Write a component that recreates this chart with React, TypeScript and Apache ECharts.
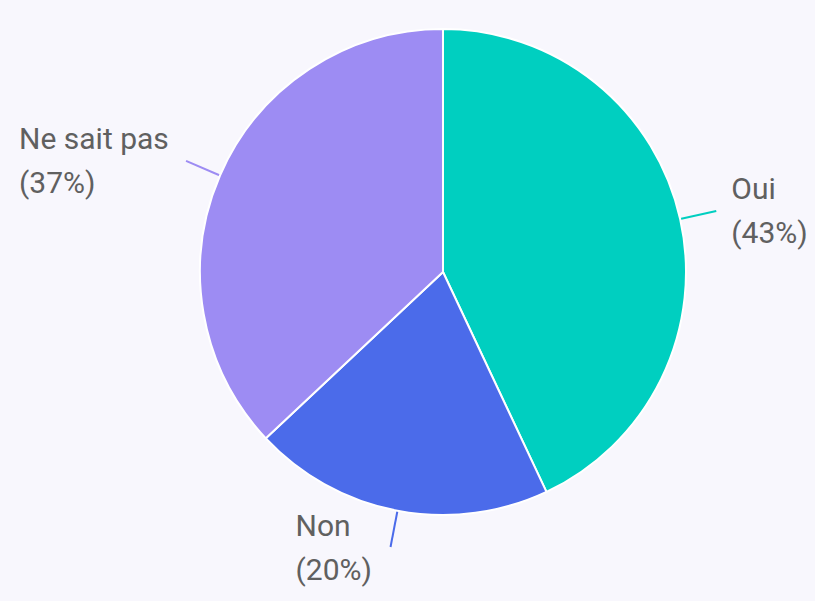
import React, { useEffect, useRef } from "react";
import * as echarts from "echarts";

const categories = ["Oui", "Non", "Ne sait pas"];
const values = [43, 20, 37];
const colors = ["#00cfc0", "#4b6bea", "#9d8cf3"];
const labelWidths = [80, 80, 152];

export default function App() {
  const ref = useRef<HTMLDivElement>(null);
  useEffect(() => {
    if (!ref.current) return;
    const chart = echarts.init(ref.current, null, { renderer: "svg" });
    const tStyle = (w: number) => ({
      width: w,
      align: "left",
      fontFamily: "Roboto",
      fontSize: 30,
      lineHeight: 44,
      color: "#606060",
    });
    chart.setOption({
      animation: false,
      backgroundColor: "#f8f7fd",
      series: [
        {
          type: "pie",
          center: [443, 272],
          radius: [0, 243],
          startAngle: 90,
          clockwise: true,
          avoidLabelOverlap: false,
          itemStyle: { borderColor: "#ffffff", borderWidth: 2 },
          label: {
            show: true,
            formatter: (p: any) => `{t|${p.name}}\n{t|(${p.value}%)}`,
            fontFamily: "Roboto",
            fontSize: 30,
            lineHeight: 44,
            color: "#606060",
            distanceToLabelLine: 15,
          },
          labelLine: { show: true, length: 37, length2: 0, lineStyle: { width: 2 } },
          data: categories.map((c, i) => ({
            name: c,
            value: values[i],
            itemStyle: { color: colors[i] },
            label: { rich: { t: tStyle(labelWidths[i]) } },
          })),
        },
      ],
    });
    return () => chart.dispose();
  }, []);
  return (
    <div
      ref={ref}
      style={{ position: "fixed", left: 0, top: 0, width: 815, height: 601 }}
    />
  );
}
